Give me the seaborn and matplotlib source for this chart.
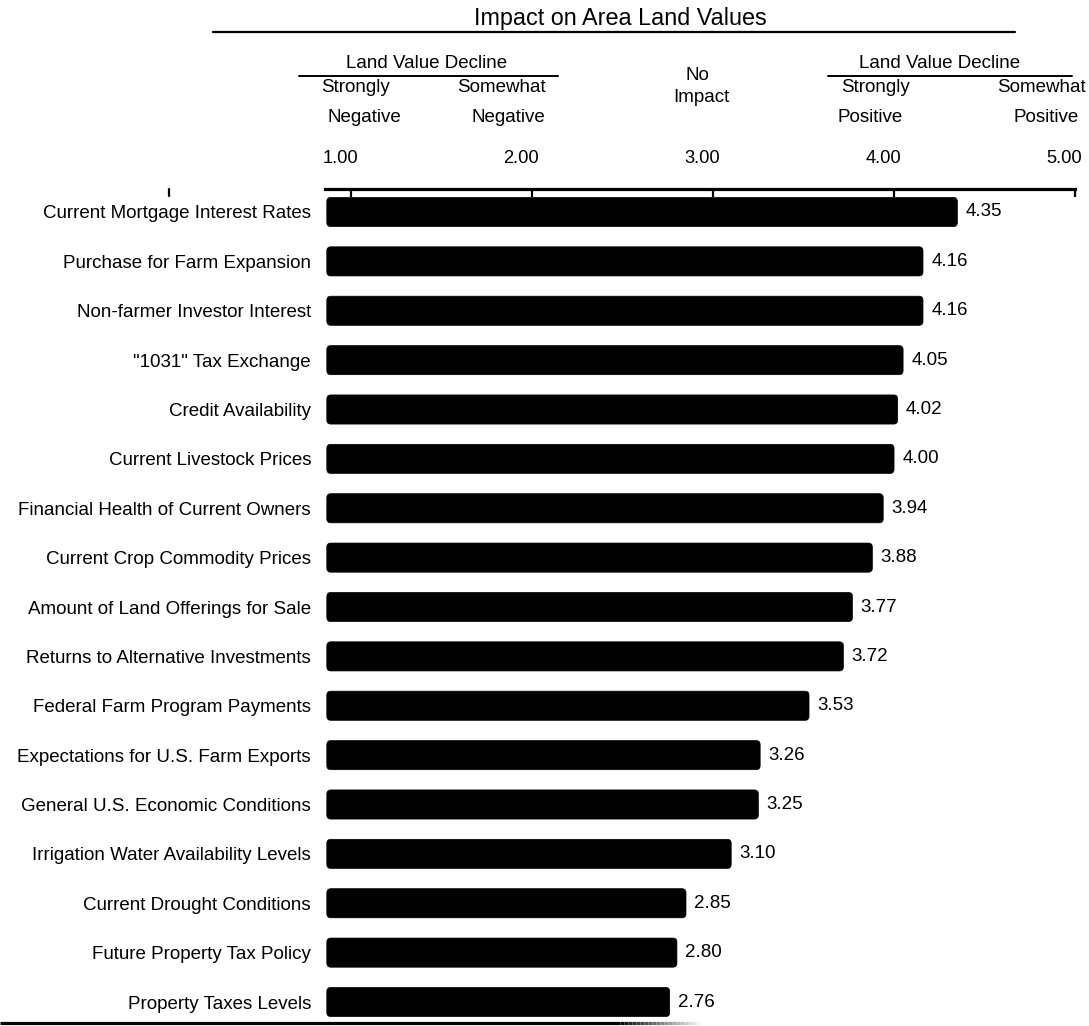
import numpy as np
import pandas as pd
import matplotlib
matplotlib.use("Agg")
import matplotlib.pyplot as plt
import seaborn as sns
from matplotlib.patches import FancyBboxPatch
from matplotlib.lines import Line2D
from matplotlib.collections import LineCollection
import matplotlib.transforms as mtransforms

# ---------------- data ----------------
categories = [
    "Current Mortgage Interest Rates",
    "Purchase for Farm Expansion",
    "Non-farmer Investor Interest",
    "\"1031\" Tax Exchange",
    "Credit Availability",
    "Current Livestock Prices",
    "Financial Health of Current Owners",
    "Current Crop Commodity Prices",
    "Amount of Land Offerings for Sale",
    "Returns to Alternative Investments",
    "Federal Farm Program Payments",
    "Expectations for U.S. Farm Exports",
    "General U.S. Economic Conditions",
    "Irrigation Water Availability Levels",
    "Current Drought Conditions",
    "Future Property Tax Policy",
    "Property Taxes Levels",
]
scores = [4.35, 4.16, 4.16, 4.05, 4.02, 4.00, 3.94, 3.88, 3.77, 3.72,
          3.53, 3.26, 3.25, 3.10, 2.85, 2.80, 2.76]
tick_values = [1.0, 2.0, 3.0, 4.0, 5.0]
tick_labels = ["1.00", "2.00", "3.00", "4.00", "5.00"]
title_text = "Impact on Area Land Values"
group_labels = ["Land Value Decline", "Land Value Decline"]
scale_labels = ["Strongly\nNegative", "Somewhat\nNegative", "No\nImpact",
                "Strongly\nPositive", "Somewhat\nPositive"]

df = pd.DataFrame({"factor": categories, "score": scores})

# ---------------- style ----------------
sns.set_style("white")
plt.rcParams["font.family"] = ["Liberation Sans", "DejaVu Sans"]
plt.rcParams["text.color"] = "black"
plt.rcParams["axes.labelcolor"] = "black"
plt.rcParams["xtick.color"] = "black"
plt.rcParams["ytick.color"] = "black"

W, H = 1089, 1026
fig = plt.figure(figsize=(W / 100, H / 100), dpi=100)


def fx(px):
    return px / W


def fy(py):
    return 1 - py / H


ax_left, ax_right, ax_top, ax_bot = 325, 1075, 189, 1023
ax = fig.add_axes([fx(ax_left), fy(ax_bot), fx(ax_right - ax_left), (ax_bot - ax_top) / H])

sns.barplot(data=df, x="score", y="factor", color="black", orient="h",
            width=0.59, ax=ax, saturation=1)

XMIN, XMAX = 0.855, 5.0
ax.set_xlim(XMIN, XMAX)
row_px = 49.375
ax.set_ylim((ax_bot - 212) / row_px, (ax_top - 212) / row_px)

# value labels
for cont in ax.containers:
    ax.bar_label(cont, labels=[f"{v:.2f}" for v in scores], padding=6,
                 fontsize=13.5, color="black")

# rounded bars rebuilt from the library's bar geometry
baseline = 0.865
rx = 4 / 180.9
ry = 4 / row_px
for p in list(ax.patches):
    x0, y0 = p.get_x(), p.get_y()
    w, h = p.get_width(), p.get_height()
    p.remove()
    fb = FancyBboxPatch((baseline, y0), x0 + w - baseline, h,
                        boxstyle=f"round,pad=0,rounding_size={rx}",
                        mutation_aspect=ry / rx,
                        facecolor="black", edgecolor="black", linewidth=0.5)
    ax.add_patch(fb)

# axes styling
for s in ["left", "right", "bottom"]:
    ax.spines[s].set_visible(False)
ax.spines["top"].set_linewidth(2.3)
ax.spines["top"].set_color("black")
ax.xaxis.set_ticks_position("top")
ax.xaxis.set_label_position("top")
ax.set_xticks(tick_values)
ax.set_xticklabels(tick_labels, fontsize=13.2)
ax.tick_params(axis="x", direction="in", length=6, width=1.6, pad=16, colors="black")
offset = mtransforms.ScaledTranslation(-11 / 100, 0, fig.dpi_scale_trans)
for lab in ax.get_xticklabels():
    lab.set_transform(lab.get_transform() + offset)
ax.tick_params(axis="y", length=0, pad=10, labelsize=13.5, colors="black")
ax.set_xlabel("")
ax.set_ylabel("")

# ---------------- header ----------------
fig.text(fx(620), fy(18), title_text, ha="center", va="center", fontsize=16.8, color="black")
fig.add_artist(Line2D([fx(213), fx(1015)], [fy(32), fy(32)], color="black", lw=1.6))

fig.text(fx(427), fy(63), group_labels[0], ha="center", va="center", fontsize=13.5, color="black")
fig.add_artist(Line2D([fx(299), fx(558)], [fy(76), fy(76)], color="black", lw=1.4))
fig.text(fx(940), fy(63), group_labels[1], ha="center", va="center", fontsize=13.5, color="black")
fig.add_artist(Line2D([fx(828), fx(1072)], [fy(76), fy(76)], color="black", lw=1.4))

scale_pos = [(355, 364, 88, 117), (501, 508, 88, 117), (697, 701, 75, 98),
             (875, 870, 88, 117), (1041, 1046, 88, 117)]
for lab, (x1, x2, y1, y2) in zip(scale_labels, scale_pos):
    a, b = lab.split("\n")
    fig.text(fx(x1), fy(y1), a, ha="center", va="center", fontsize=13.5, color="black")
    fig.text(fx(x2), fy(y2), b, ha="center", va="center", fontsize=13.5, color="black")

# stray tick mark at left
fig.add_artist(Line2D([fx(169), fx(169)], [fy(189), fy(196)], color="black", lw=1.6))

# bottom rule with fading end
fig.add_artist(Line2D([0, fx(620)], [fy(1023), fy(1023)], color="black", lw=2.3,
                      solid_capstyle="butt"))
n = 20
xs = np.linspace(620, 700, n + 1)
segs = [[(fx(xs[i]), fy(1023)), (fx(xs[i + 1]), fy(1023))] for i in range(n)]
cols = [(g, g, g) for g in np.linspace(0.05, 0.95, n)]
lc = LineCollection(segs, colors=cols, linewidths=2.3, transform=fig.transFigure)
fig.add_artist(lc)

fig.savefig("out.png", dpi=100)
